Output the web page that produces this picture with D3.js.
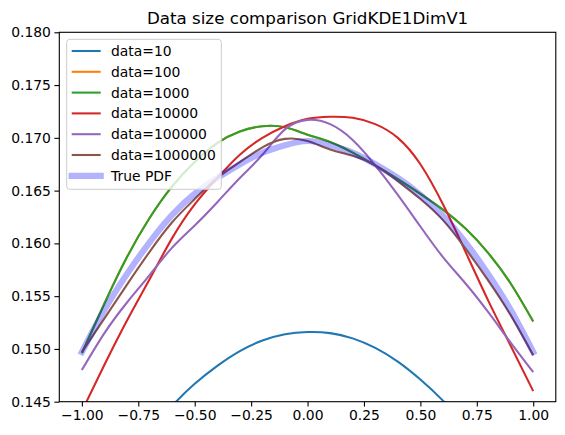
<!DOCTYPE html>
<html>
<head>
<meta charset="utf-8">
<script src="https://cdn.jsdelivr.net/npm/d3@7"></script>
<style>
  body { margin: 0; background: #fff; }
  text { font-family: "DejaVu Sans", sans-serif; }
</style>
</head>
<body>
<div id="chart"></div>
<script>
// grid of x positions used by every curve
const xs = [-1.0, -0.9, -0.8, -0.7, -0.6, -0.5, -0.4, -0.3, -0.2, -0.1, 0.0,
            0.1, 0.2, 0.3, 0.4, 0.5, 0.6, 0.7, 0.8, 0.9, 1.0];

const data10 = [0.1321, 0.1358, 0.1391, 0.1420, 0.1446, 0.1467, 0.1484, 0.1498, 0.1508, 0.1514, 0.1516,
                0.1515, 0.1510, 0.1501, 0.1488, 0.1471, 0.1451, 0.1427, 0.1399, 0.1367, 0.1331];
// data=100 sits under data=1000 in the picture
const data100 = [0.1496, 0.1543, 0.1587, 0.1624, 0.1654, 0.1677, 0.1695, 0.1706, 0.1711, 0.1710, 0.1703,
                 0.1696, 0.1686, 0.1674, 0.1661, 0.1647, 0.1632, 0.1614, 0.1591, 0.1562, 0.1526];
const data1000 = [0.1496, 0.1543, 0.1587, 0.1624, 0.1654, 0.1677, 0.1695, 0.1706, 0.1711, 0.1710, 0.1703,
                  0.1696, 0.1686, 0.1674, 0.1661, 0.1647, 0.1632, 0.1614, 0.1591, 0.1562, 0.1526];
const data10000 = [0.1441, 0.1485, 0.1527, 0.1566, 0.1605, 0.1637, 0.1662, 0.1684, 0.1700, 0.1711, 0.1718,
                   0.1720, 0.1719, 0.1713, 0.1700, 0.1675, 0.1637, 0.1592, 0.1546, 0.1503, 0.1460];
const data100000 = [0.1480, 0.1515, 0.1544, 0.1570, 0.1596, 0.1617, 0.1639, 0.1662, 0.1684, 0.1708, 0.1717,
                    0.1713, 0.1698, 0.1674, 0.1646, 0.1616, 0.1587, 0.1562, 0.1535, 0.1506, 0.1478];
const data1000000 = [0.1497, 0.1529, 0.1561, 0.1592, 0.1620, 0.1642, 0.1662, 0.1677, 0.1691, 0.1699, 0.1697,
                     0.1689, 0.1683, 0.1674, 0.1659, 0.1642, 0.1622, 0.1595, 0.1565, 0.1532, 0.1494];
const truePdf = [0.1497, 0.1537, 0.1571, 0.1601, 0.1627, 0.1647, 0.1662, 0.1675, 0.1686, 0.1693, 0.1697,
                 0.1693, 0.1686, 0.1675, 0.1662, 0.1646, 0.1626, 0.1601, 0.1571, 0.1537, 0.1497];

const seriesNames = ["data=10", "data=100", "data=1000", "data=10000", "data=100000", "data=1000000", "True PDF"];
const xTicks = [-1.0, -0.75, -0.5, -0.25, 0.0, 0.25, 0.5, 0.75, 1.0];
const yTicks = [0.145, 0.150, 0.155, 0.160, 0.165, 0.170, 0.175, 0.180];
const titleText = "Data size comparison GridKDE1DimV1";

const width = 565, height = 435;
const margin = { left: 59.3, right: 565 - 555.8, top: 32.3, bottom: 435 - 401.7 };

const series = [data10, data100, data1000, data10000, data100000, data1000000, truePdf];
const colors = ["#1f77b4", "#ff7f0e", "#2ca02c", "#d62728", "#9467bd", "#8c564b", "blue"];

const svg = d3.select("#chart").append("svg")
    .attr("width", width)
    .attr("height", height);

const xScale = d3.scaleLinear()
    .domain([-1.1, 1.1])
    .range([margin.left, width - margin.right]);

const yScale = d3.scaleLinear()
    .domain([0.145, 0.180])
    .range([height - margin.bottom, margin.top]);

svg.append("clipPath").attr("id", "plotClip")
  .append("rect")
    .attr("x", margin.left)
    .attr("y", margin.top)
    .attr("width", width - margin.left - margin.right)
    .attr("height", height - margin.top - margin.bottom);

const line = d3.line()
    .x((d, i) => xScale(xs[i]))
    .y((d) => yScale(d))
    .curve(d3.curveNatural);

const plot = svg.append("g").attr("clip-path", "url(#plotClip)");

series.forEach((values, i) => {
    const isPdf = i === series.length - 1;
    plot.append("path")
        .datum(values)
        .attr("fill", "none")
        .attr("stroke", colors[i])
        .attr("stroke-opacity", isPdf ? 0.3 : 1)
        .attr("stroke-width", isPdf ? 6.2 : 2.08)
        .attr("stroke-linecap", isPdf ? "square" : "butt")
        .attr("stroke-linejoin", "round")
        .attr("d", line);
});

// axes
const xAxis = d3.axisBottom(xScale)
    .tickValues(xTicks)
    .tickSize(4.9)
    .tickPadding(3.5)
    .tickFormat((d) => d3.format(".2f")(d).replace("-", "\u2212"));

const yAxis = d3.axisLeft(yScale)
    .tickValues(yTicks)
    .tickSize(4.9)
    .tickPadding(3.5)
    .tickFormat(d3.format(".3f"));

const gx = svg.append("g")
    .attr("transform", `translate(0,${height - margin.bottom})`)
    .call(xAxis);
const gy = svg.append("g")
    .attr("transform", `translate(${margin.left},0)`)
    .call(yAxis);

[gx, gy].forEach((g) => {
    g.select(".domain").remove();
    g.selectAll(".tick line").attr("stroke", "#000").attr("stroke-width", 1.1);
    g.selectAll(".tick text")
        .attr("fill", "#000")
        .style("font-size", "13.9px")
        .style("font-family", "'DejaVu Sans', sans-serif");
});

// spines
svg.append("rect")
    .attr("x", margin.left)
    .attr("y", margin.top)
    .attr("width", width - margin.left - margin.right)
    .attr("height", height - margin.top - margin.bottom)
    .attr("fill", "none")
    .attr("stroke", "#000")
    .attr("stroke-width", 1.1);

svg.append("text")
    .attr("x", (margin.left + width - margin.right) / 2)
    .attr("y", 24)
    .attr("text-anchor", "middle")
    .style("font-size", "16.7px")
    .text(titleText);

// legend
const legend = svg.append("g");
legend.append("rect")
    .attr("x", 66.7)
    .attr("y", 39.3)
    .attr("width", 154.6)
    .attr("height", 150)
    .attr("rx", 3)
    .attr("fill", "#fff")
    .attr("fill-opacity", 0.8)
    .attr("stroke", "#cccccc")
    .attr("stroke-width", 1);

seriesNames.forEach((name, i) => {
    const isPdf = i === seriesNames.length - 1;
    const yRow = 51 + i * 20.8;
    legend.append("line")
        .attr("x1", 71.7)
        .attr("x2", 100.7)
        .attr("y1", yRow)
        .attr("y2", yRow)
        .attr("stroke", colors[i])
        .attr("stroke-opacity", isPdf ? 0.3 : 1)
        .attr("stroke-width", isPdf ? 6.2 : 2.08)
        .attr("stroke-linecap", isPdf ? "square" : "butt");
    legend.append("text")
        .attr("x", 111)
        .attr("y", yRow)
        .attr("dy", "0.36em")
        .style("font-size", "13.9px")
        .text(name);
});
</script>
</body>
</html>
